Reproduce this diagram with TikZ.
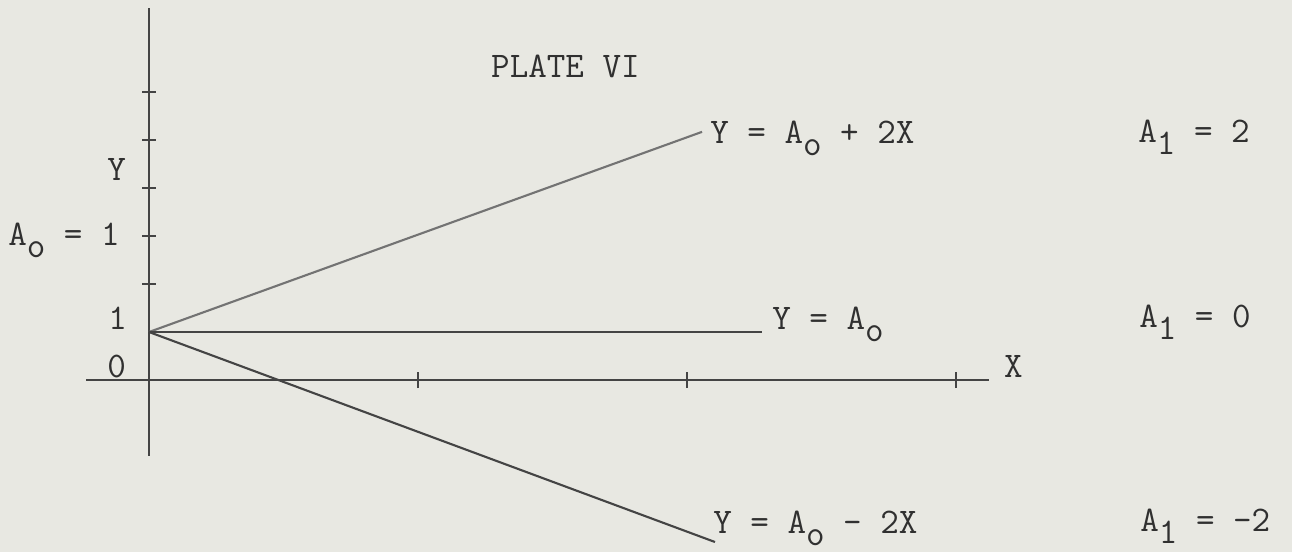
\documentclass[tikz,border=0pt]{standalone}
\definecolor{paper}{RGB}{232,232,226}
\definecolor{ink}{RGB}{68,68,68}
\definecolor{type}{RGB}{48,48,48}
\newcommand{\typsub}[1]{\raisebox{-7pt}{#1}}
\tikzset{
	typed/.style = {inner sep = 0pt, anchor = base west, text = type,
		font = \fontsize{20.5}{24}\selectfont\ttfamily},
	axis/.style = {ink, line width = 1pt},
	graph/.style = {ink, line width = 1.2pt},
}
\begin{document}
\begin{tikzpicture} [x = 5.38cm, y = 0.96cm]
	\fill [paper] (-0.5539,-3.5833) rectangle (4.2491,7.9167);
	% axes and ticks
	\draw [axis] (0,-1.583) -- (0,7.75);
	\draw [axis] (-0.234,0) -- (3.123,0);
	\foreach \k in {2,...,6}
		\draw [axis] (-0.026,\k) -- (0.026,\k);
	\foreach \k in {1,2,3}
		\draw [axis] (\k,-0.17) -- (\k,0.17);
	% the three lines through (0,1)
	\coordinate (start) at (0,1);
	\coordinate (up) at (2.056,5.17);
	\coordinate (flat) at (2.279,1);
	\coordinate (down) at (2.104,-3.375);
	\draw [graph, ink!75] (start) -- (up);
	\draw [graph] (start) -- (flat);
	\draw [graph] (start) -- (down);
	% labels
	\node [typed] (title) at (1.271,6.3125) {PLATE VI};
	\node [typed] (ylab) at (-0.156,4.1667) {Y};
	\node [typed] (aon) at (-0.5242,2.8125) {A\typsub{o} = 1};
	\node [typed] (one) at (-0.1524,1.0625) {1};
	\node [typed] (zero) at (-0.156,0.0625) {0};
	\node [typed] (xlab) at (3.178,0.0625) {X};
	\node [typed] (lup) at (2.0855,4.9375) {Y = A\typsub{o} + 2X};
	\node [typed] (lflat) at (2.316,1.0625) {Y = A\typsub{o}};
	\node [typed] (ldown) at (2.0967,-3.20) {Y = A\typsub{o} - 2X};
	\node [typed] (aup) at (3.6766,4.958) {A\typsub{1} = 2};
	\node [typed] (aflat) at (3.680,1.104) {A\typsub{1} = 0};
	\node [typed] (adown) at (3.684,-3.15) {A\typsub{1} = -2};
\end{tikzpicture}
\end{document}
